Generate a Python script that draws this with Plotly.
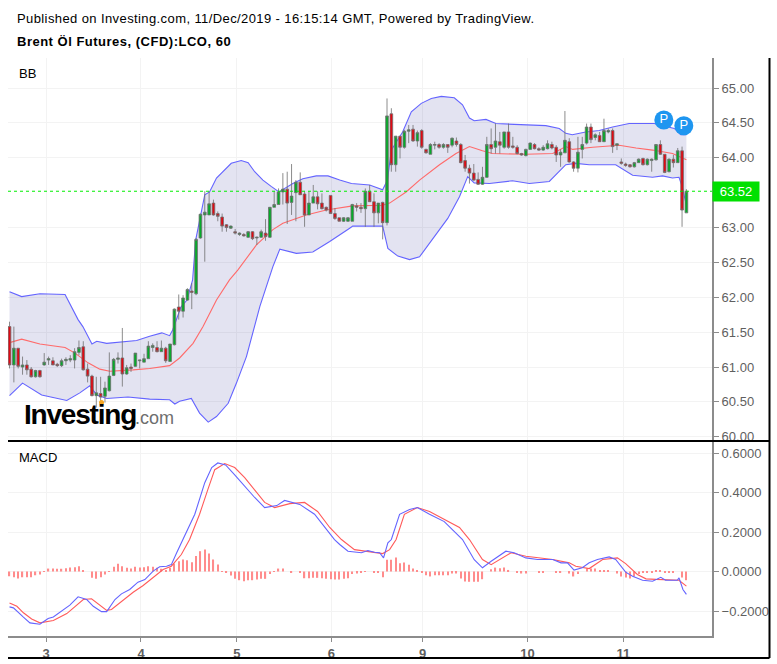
"""
Brent hourly candles with Bollinger bands and MACD
"""
import plotly.graph_objects as go

###############################################################################
# Values
# ----------------------------

opens = [61.58, 61.03, 61.27, 61.0, 61.03, 60.97, 60.86, 60.95, 61.03, 61.1,
         61.09, 61.04, 61.02, 61.09, 61.1, 61.10, 61.21, 61.29, 60.97, 60.87,
         60.59, 60.62, 60.58, 60.66, 60.88, 61.11, 61.13, 60.90, 61.0, 61.01,
         61.09, 61.07, 61.12, 61.28, 61.28, 61.22, 61.27, 61.08, 61.32, 61.86,
         61.80, 61.96, 62.09, 62.05, 62.85, 63.18, 63.18, 63.35, 63.2, 63.15,
         63.04, 62.99, 62.94, 62.9, 62.9, 62.86, 62.94, 62.85, 62.86, 62.92,
         62.86, 63.29, 63.33, 63.51, 63.55, 63.36, 63.5, 63.65, 63.48, 63.18,
         63.35, 63.44, 63.35, 63.29, 63.46, 63.2, 63.14, 63.09, 63.09, 63.09,
         63.31, 63.29, 63.27, 63.52, 63.37, 63.21, 63.36, 63.07, 64.63, 63.9,
         64.31, 64.15, 64.38, 64.41, 64.24, 64.39, 64.12, 64.05, 64.18, 64.19,
         64.15, 64.19, 64.18, 64.24, 64.19, 63.96, 63.85, 63.78, 63.69, 63.62,
         63.72, 64.19, 64.15, 64.23, 64.15, 64.37, 64.17, 64.15, 64.06, 64.03,
         64.12, 64.19, 64.13, 64.11, 64.13, 64.19, 64.15, 64.04, 64.07, 64.23,
         63.94, 63.85, 64.12, 64.21, 64.44, 64.29, 64.32, 64.23, 64.37, 64.39,
         64.18, 63.94, 63.91, 63.9, 63.87, 63.93, 63.99, 63.9, 63.96, 63.97,
         64.19, 64.05, 63.8, 63.98, 63.93, 64.1, 63.21]
highs = [61.65, 61.58, 61.27, 61.15, 61.10, 61.0, 60.96, 60.96, 61.2, 61.15,
         61.14, 61.06, 61.12, 61.14, 61.17, 61.27, 61.38, 61.37, 61.05, 60.89,
         60.86, 60.86, 60.79, 61.21, 61.13, 61.21, 61.56, 61.03, 61.05, 61.2,
         61.1, 61.19, 61.37, 61.34, 61.37, 61.38, 61.29, 61.33, 61.84, 62.04,
         62.03, 62.13, 62.2, 62.85, 63.2, 63.52, 63.52, 63.40, 63.23, 63.2,
         63.05, 63.03, 62.98, 62.93, 62.92, 62.95, 62.95, 62.87, 62.97, 63.12,
         63.29, 63.52, 63.56, 63.78, 63.8, 63.91, 63.68, 63.79, 63.52, 63.52,
         63.61, 63.52, 63.49, 63.3, 63.46, 63.28, 63.14, 63.15, 63.15, 63.34,
         63.35, 63.35, 63.56, 63.61, 63.49, 63.35, 63.37, 64.85, 64.71, 64.31,
         64.31, 64.4, 64.47, 64.47, 64.39, 64.41, 64.13, 64.21, 64.23, 64.21,
         64.21, 64.19, 64.29, 64.29, 64.21, 64.04, 63.9, 63.91, 63.79, 63.87,
         64.3, 64.42, 64.49, 64.37, 64.37, 64.49, 64.3, 64.18, 64.07, 64.13,
         64.22, 64.21, 64.15, 64.18, 64.25, 64.23, 64.18, 64.12, 64.67, 64.28,
         63.95, 64.3, 64.3, 64.49, 64.49, 64.35, 64.37, 64.56, 64.42, 64.42,
         64.2, 63.99, 63.93, 63.91, 63.94, 63.99, 64.0, 63.99, 63.99, 64.19,
         64.25, 64.05, 63.99, 64.04, 64.14, 64.16, 63.55]
lows = [60.98, 60.78, 60.98, 60.89, 60.89, 60.85, 60.85, 60.85, 61.02, 61.03,
        61.03, 61.0, 61.0, 61.03, 61.07, 60.98, 61.17, 60.95, 60.78, 60.58,
        60.42, 60.45, 60.49, 60.65, 60.87, 61.05, 60.72, 60.89, 60.93, 61.0,
        60.98, 61.07, 61.12, 61.22, 61.21, 61.22, 61.06, 61.08, 61.31, 61.68,
        61.71, 61.95, 61.83, 62.03, 62.84, 62.51, 63.18, 63.17, 63.09, 62.94,
        62.94, 62.98, 62.9, 62.88, 62.87, 62.85, 62.82, 62.75, 62.85, 62.81,
        62.85, 63.29, 63.33, 63.33, 63.05, 63.18, 63.09, 63.47, 63.01, 63.18,
        63.35, 63.26, 63.26, 63.23, 63.2, 63.11, 63.09, 63.08, 63.08, 63.09,
        63.23, 63.21, 63.01, 63.37, 63.01, 63.06, 62.83, 63.03, 63.8, 63.8,
        63.99, 64.13, 64.21, 64.23, 64.16, 64.13, 64.06, 64.05, 64.12, 64.13,
        64.13, 64.07, 64.15, 64.16, 63.92, 63.8, 63.63, 63.67, 63.61, 63.61,
        63.71, 64.06, 64.06, 64.06, 64.13, 64.13, 64.13, 64.05, 64.03, 64.02,
        64.12, 64.12, 64.1, 64.1, 64.12, 64.12, 63.94, 63.87, 64.07, 63.93,
        63.8, 63.79, 63.99, 64.19, 64.21, 64.25, 64.23, 64.23, 64.35, 64.07,
        64.11, 63.9, 63.87, 63.86, 63.86, 63.93, 63.89, 63.89, 63.8, 63.96,
        64.04, 63.78, 63.79, 63.86, 63.93, 63.01, 63.21]
closes = [61.03, 61.27, 61.01, 61.03, 60.96, 60.86, 60.95, 60.86, 61.07, 61.12,
          61.03, 61.02, 61.09, 61.11, 61.12, 61.22, 61.28, 60.96, 60.87, 60.59,
          60.63, 60.57, 60.70, 60.87, 61.11, 61.13, 60.90, 60.99, 60.98, 61.2,
          61.1, 61.12, 61.3, 61.31, 61.22, 61.27, 61.09, 61.33, 61.83, 61.80,
          61.99, 62.11, 62.07, 62.83, 63.19, 63.22, 63.34, 63.18, 63.16, 63.02,
          63.0, 63.02, 62.92, 62.92, 62.88, 62.94, 62.84, 62.86, 62.94, 62.87,
          63.29, 63.33, 63.51, 63.55, 63.35, 63.45, 63.65, 63.47, 63.18, 63.35,
          63.44, 63.34, 63.27, 63.25, 63.2, 63.13, 63.09, 63.14, 63.14, 63.33,
          63.29, 63.27, 63.52, 63.37, 63.21, 63.35, 63.07, 64.6, 63.9, 64.31,
          64.15, 64.38, 64.4, 64.24, 64.36, 64.15, 64.07, 64.19, 64.19, 64.15,
          64.19, 64.15, 64.28, 64.19, 63.93, 63.85, 63.78, 63.68, 63.62, 63.72,
          64.19, 64.13, 64.24, 64.18, 64.37, 64.15, 64.15, 64.06, 64.04, 64.12,
          64.21, 64.13, 64.11, 64.15, 64.2, 64.14, 64.04, 64.08, 64.25, 63.94,
          63.85, 64.08, 64.19, 64.44, 64.26, 64.33, 64.23, 64.39, 64.39, 64.16,
          64.2, 63.92, 63.89, 63.87, 63.93, 63.98, 63.9, 63.98, 63.98, 64.19,
          64.05, 63.79, 63.98, 63.93, 64.1, 63.25, 63.52]
last_price = 63.52

# Bollinger bands, read at the bends of each line (bar number, price)
upper_idx = [0, 2.8, 7, 12.8, 15.8, 16.9, 19, 20.1, 22.4, 25.9, 29.3, 32.3,
             35.1, 36.9, 37.6, 39.5, 40.9, 42.2, 42.9, 45, 46.1, 47.7, 49.1,
             51.1, 53.4, 55, 56.5, 58.4, 60.3, 62.1, 65.3, 67.6, 70.7, 73.4,
             76.1, 78.8, 83, 86, 87.1, 88, 90.6, 92.6, 94.9, 97.2, 99.5, 102.5,
             104.4, 106, 107.1, 109.8, 112.1, 116, 119.8, 123.6, 126.7, 128.2,
             129.7, 131.3, 132.8, 135.9, 139, 142.8, 145.8, 148.6, 153.2,
             154.7, 156]
upper_val = [62.08, 62.01, 62.05, 62.04, 61.68, 61.58, 61.33, 61.37, 61.34,
             61.36, 61.38, 61.44, 61.49, 61.45, 61.53, 61.86, 61.96, 62.25,
             62.82, 63.47, 63.51, 63.71, 63.80, 63.92, 63.96, 63.93, 63.80,
             63.68, 63.59, 63.51, 63.63, 63.70, 63.74, 63.74, 63.68, 63.63,
             63.61, 63.54, 63.68, 64.11, 64.37, 64.66, 64.78, 64.85, 64.88,
             64.86, 64.76, 64.57, 64.53, 64.55, 64.49, 64.48, 64.47, 64.46,
             64.42, 64.35, 64.33, 64.35, 64.37, 64.39, 64.44, 64.49, 64.49,
             64.49, 64.42, 64.33, 64.33]
mid_idx = [0, 2.8, 7, 12.8, 15.1, 18.1, 20.8, 23.1, 28.5, 32.3, 36.9, 39.2,
           42.3, 44.6, 47.7, 50.7, 52.6, 56.9, 60.7, 63, 68.4, 73, 79.1, 86,
           87.6, 91.4, 94.5, 99.1, 102.9, 106, 109, 111.3, 119, 125.2, 128.2,
           129.8, 134.4, 140.5, 144.4, 148.2, 152.8, 156]
mid_val = [61.35, 61.40, 61.33, 61.28, 61.20, 61.06, 60.97, 60.94, 60.96,
           60.98, 61.02, 61.13, 61.34, 61.58, 61.96, 62.25, 62.39, 62.75,
           62.97, 63.06, 63.18, 63.25, 63.31, 63.32, 63.35, 63.51, 63.68,
           63.90, 64.06, 64.16, 64.10, 64.06, 64.05, 64.06, 64.16, 64.12,
           64.15, 64.18, 64.14, 64.11, 64.06, 63.97]
lower_idx = [0, 3, 7.4, 13.2, 16.2, 18.5, 20.1, 22.4, 27.3, 32.3, 36.9, 38.1,
             39.2, 41.9, 43.8, 45.8, 47.7, 50.4, 52.3, 54.6, 57.7, 60.7, 62.3,
             66.1, 69.9, 73.8, 78.4, 79.1, 86, 87.2, 89.5, 92.2, 94.5, 99.1,
             101, 103.7, 105.6, 107.1, 110.6, 115.9, 119.8, 124.4, 125.9,
             128.2, 130.5, 133.6, 139.7, 143.6, 148.2, 150.5, 152.8, 154.3,
             155, 156]
lower_val = [60.59, 60.77, 60.60, 60.52, 60.63, 60.73, 60.60, 60.55, 60.57,
             60.54, 60.53, 60.47, 60.51, 60.55, 60.34, 60.21, 60.29, 60.48,
             60.77, 61.15, 61.87, 62.44, 62.69, 62.63, 62.65, 62.80, 62.99,
             63.02, 63.02, 62.70, 62.59, 62.54, 62.58, 62.97, 63.13, 63.44,
             63.73, 63.64, 63.63, 63.67, 63.63, 63.66, 63.75, 63.90, 63.92,
             63.90, 63.90, 63.75, 63.72, 63.74, 63.71, 63.72, 63.59, 63.32]

# MACD pane
macd_idx = [0, 0.9, 3.2, 4.7, 7, 8.9, 10.1, 12.4, 13.9, 15.8, 17.8, 19.3, 21.2,
            22.4, 24.3, 25.8, 27.7, 29.6, 31.2, 33.1, 34.6, 36.2, 37.3, 38.5,
            40, 42.7, 45, 46.6, 48, 49.8, 51.9, 54.2, 56.5, 58.8, 61.6, 63.4,
            66.9, 70.3, 74.9, 76.1, 78, 81.1, 82.6, 84.1, 85.3, 86.2, 87.2, 88,
            89.9, 92.2, 94, 96.8, 100.2, 104.4, 107.1, 109, 111, 114.4, 116.3,
            119, 121.7, 125.2, 127.1, 128.6, 130.1, 132, 133.6, 135.5, 138.2,
            139.7, 142, 143.6, 145.9, 148.2, 150.1, 151.2, 153.9, 154.3,
            155.2, 156]
macd_val = [-0.179, -0.184, -0.231, -0.26, -0.267, -0.238, -0.23, -0.196,
            -0.17, -0.128, -0.142, -0.176, -0.203, -0.203, -0.142, -0.113,
            -0.091, -0.054, -0.041, 0.002, 0.024, 0.027, 0.035, 0.094, 0.162,
            0.29, 0.45, 0.527, 0.55, 0.54, 0.49, 0.43, 0.375, 0.324, 0.334,
            0.36, 0.34, 0.29, 0.162, 0.137, 0.103, 0.095, 0.106, 0.098, 0.095,
            0.069, 0.145, 0.162, 0.29, 0.314, 0.324, 0.29, 0.253, 0.162, 0.06,
            0.019, 0.052, 0.103, 0.095, 0.069, 0.061, 0.061, 0.044, 0.044,
            0.007, 0.019, 0.044, 0.061, 0.074, 0.061, -0.003, -0.024, -0.044,
            -0.049, -0.029, -0.044, -0.044, -0.032, -0.091, -0.116]
signal_idx = [0, 1.7, 3.2, 5.1, 7, 10.1, 13.2, 15.8, 17, 18.9, 20.8, 22.4, 23.5,
              26.2, 28.5, 30.8, 33.1, 35.4, 37.3, 39.6, 41.5, 43.8, 45.7, 47.3,
              49.6, 51.9, 54.2, 56.5, 58.8, 61.1, 64.6, 68, 71, 73.8, 76.5,
              79.5, 82.2, 84.5, 86, 87.6, 89.1, 91, 94, 96.8, 100.2, 103.7,
              106, 109, 111, 115.6, 119, 122.1, 125.2, 129, 130.5, 133.6,
              136.7, 140.1, 142, 144.7, 146.7, 149, 152, 154.3, 156]
signal_val = [-0.159, -0.176, -0.209, -0.24, -0.26, -0.248, -0.213, -0.162,
              -0.142, -0.138, -0.172, -0.197, -0.192, -0.145, -0.105, -0.071,
              -0.032, 0.01, 0.027, 0.086, 0.162, 0.29, 0.415, 0.516, 0.547,
              0.527, 0.476, 0.415, 0.35, 0.324, 0.344, 0.35, 0.304, 0.223,
              0.162, 0.111, 0.103, 0.098, 0.091, 0.111, 0.162, 0.29, 0.324,
              0.304, 0.263, 0.223, 0.162, 0.061, 0.035, 0.095, 0.077, 0.069,
              0.061, 0.044, 0.027, 0.015, 0.061, 0.069, 0.04, -0.015, -0.037,
              -0.04, -0.044, -0.044, -0.074]
hist_val = [-0.024, -0.029, -0.035, -0.029, -0.029, -0.029, -0.019, -0.015,
            0.002, 0.015, 0.015, 0.014, 0.014, 0.017, 0.02, 0.022, 0.027, 0.007,
            0, -0.032, -0.037, -0.029, -0.015, 0.002, 0.024, 0.04, 0.027, 0.019,
            0.015, 0.024, 0.02, 0.022, 0.027, 0.024, 0.019, 0.014, 0.007, 0.019,
            0.04, 0.052, 0.061, 0.057, 0.047, 0.078, 0.103, 0.111, 0.091, 0.061,
            0.035, 0.002, -0.007, -0.02, -0.037, -0.044, -0.049, -0.044, -0.044,
            -0.04, -0.037, -0.037, -0.012, 0.002, 0.015, 0.015, 0, -0.007, 0,
            -0.007, -0.034, -0.034, -0.032, -0.032, -0.034, -0.037, -0.039,
            -0.04, -0.04, -0.037, -0.034, -0.012, -0.01, -0.007, 0.002, 0,
            -0.007, -0.007, -0.029,
            0.059, 0.059, 0.071, 0.042, 0.046, 0.034, 0.015, 0.008, -0.005,
            -0.019, -0.025, -0.019, -0.019, -0.019, -0.019, -0.01, -0.01, -0.035,
            -0.051, -0.052, -0.052, -0.052, -0.039, 0, 0.012, 0.02, 0.017, 0.02,
            0.008, 0, -0.005, -0.01, -0.01, 0, 0, -0.003, -0.003, 0, 0, -0.005,
            -0.005, 0, -0.01, -0.025, -0.013, 0, 0.015, 0.015, 0.015, 0.003,
            0.008, 0.008, 0, -0.01, -0.025, -0.03, -0.035, -0.025, -0.013, -0.005,
            -0.005, -0.005, 0.008, 0.008, -0.003, -0.003, -0.003, 0, -0.03, -0.044]

# axis labels, 63.50 is covered by the last price label in the picture
day_pos = [8.45, 30.3, 52.4, 74.2, 95.2, 119.4, 141.5]
day_labels = ['<b>3</b>', '<b>4</b>', '<b>5</b>', '<b>6</b>', '<b>9</b>',
              '<b>10</b>', '<b>11</b>']
price_ticks = [60, 60.5, 61, 61.5, 62, 62.5, 63, 64, 64.5, 65]
macd_ticks = [-0.2, 0, 0.2, 0.4, 0.6]

# pivot flags and the small orange marker
flag_idx = [150.8, 155.4]
flag_val = [64.54, 64.46]
div_idx = [21.2]
div_val = [60.49]

bars = list(range(len(opens)))

###############################################################################
# Traces
# ------

BLUE, RED = '#6464ff', '#ff6a6a'
kw_line = dict(mode='lines', hoverinfo='skip', showlegend=False)

fig = go.Figure()

# the band goes on the base axes, the candles on an overlay above it
fig.add_trace(go.Scatter(
    x=upper_idx + lower_idx[::-1], y=upper_val + lower_val[::-1], fill='toself',
    fillcolor='rgba(70, 70, 160, 0.15)', line=dict(width=0), yaxis='y',
    **kw_line))
fig.add_trace(go.Scatter(x=upper_idx, y=upper_val, yaxis='y',
                         line=dict(color=BLUE, width=1.1), **kw_line))
fig.add_trace(go.Scatter(x=lower_idx, y=lower_val, yaxis='y',
                         line=dict(color=BLUE, width=1.1), **kw_line))
fig.add_trace(go.Scatter(x=mid_idx, y=mid_val, yaxis='y',
                         line=dict(color=RED, width=1.1), **kw_line))

fig.add_trace(go.Candlestick(
    x=bars, open=opens, high=highs, low=lows, close=closes, yaxis='y3',
    whiskerwidth=0, showlegend=False,
    increasing=dict(fillcolor='#06ab2a', line=dict(color='#6f6f6f', width=0.8)),
    decreasing=dict(fillcolor='#e00a14', line=dict(color='#6f6f6f', width=0.8))))

fig.add_trace(go.Scatter(
    x=div_idx, y=div_val, yaxis='y3', mode='markers', showlegend=False,
    marker=dict(color='#f5a623', size=5)))
fig.add_trace(go.Scatter(
    x=flag_idx, y=flag_val, yaxis='y3', mode='markers+text', text=['P', 'P'],
    textposition='middle center', showlegend=False,
    textfont=dict(family='Liberation Sans', size=13, color='white'),
    marker=dict(color='#1e96f0', size=19)))

fig.add_trace(go.Bar(x=bars, y=hist_val, yaxis='y2', width=0.28,
                     marker=dict(color='#ff8c8c', line=dict(width=0)),
                     showlegend=False))
fig.add_trace(go.Scatter(x=signal_idx, y=signal_val, yaxis='y2',
                         line=dict(color='#ff5a5a', width=1.1), **kw_line))
fig.add_trace(go.Scatter(x=macd_idx, y=macd_val, yaxis='y2',
                         line=dict(color=BLUE, width=1.1), **kw_line))

###############################################################################
# Layout
# ------

GRID, AXIS, LABEL = '#f3f3f3', '#8c8c8c', '#5f5f5f'
kw_tick = dict(family='Liberation Sans', size=13, color=LABEL)
kw_y = dict(side='right', showgrid=True, gridcolor=GRID, gridwidth=1,
            zeroline=False, ticks='outside', ticklen=5, tickcolor=AXIS,
            tickfont=kw_tick, showline=True, linecolor=AXIS, linewidth=2,
            anchor='x', fixedrange=True)
price_range = [59.94, 65.43]

fig.update_layout(
    width=777, height=664,
    margin=dict(l=8, r=65, t=58, b=28, autoexpand=False),
    paper_bgcolor='white', plot_bgcolor='white', showlegend=False, boxgap=0.12,
    xaxis=dict(range=[-0.35, 161.9], tickvals=day_pos, ticktext=day_labels,
               anchor='y2', showgrid=True, gridcolor=GRID, zeroline=False,
               showline=True, linecolor=AXIS, linewidth=2, ticks='outside',
               ticklen=4, tickcolor=AXIS, fixedrange=True,
               tickfont=dict(family='Liberation Sans', size=13, color=LABEL),
               rangeslider=dict(visible=False)),
    yaxis=dict(domain=[0.3374, 1], range=price_range, tickvals=price_ticks,
               tickformat='.2f', **kw_y),
    yaxis2=dict(domain=[0, 0.3356], range=[-0.3266, 0.656], tickvals=macd_ticks,
                tickformat='.4f', **kw_y),
    yaxis3=dict(overlaying='y', range=price_range, visible=False, anchor='x',
                fixedrange=True),
)


def px_x(xp):
    return (xp - 8) / 704


def px_y(yp):
    return (636 - yp) / 578


def add_text(text, xp, yp, size, color='black', bold=False, spacing=0):
    text = '<span style="letter-spacing:%gpx">%s</span>' % (spacing, text)
    fig.add_annotation(
        text='<b>%s</b>' % text if bold else text, x=px_x(xp), y=px_y(yp),
        xref='paper', yref='paper', xanchor='left', yanchor='middle',
        showarrow=False, font=dict(family='Liberation Sans', size=size,
                                   color=color))


add_text('Published on Investing.com, 11/Dec/2019 - 16:15:14 GMT, '
         'Powered by TradingView.', 15, 18, 13, spacing=0.4)
add_text('Brent Öl Futures, (CFD):LCO, 60', 15, 41, 13, bold=True, spacing=0.5)
add_text('BB', 17, 74, 13)
add_text('MACD', 17, 458, 13)
add_text('Investing', 22, 414, 28, bold=True, spacing=-1.2)
add_text('.com', 133, 418, 18, color='#6e6e6e')

# current price line and its label
fig.add_shape(type='line', xref='paper', x0=0, x1=1, yref='y', y0=last_price,
              y1=last_price, line=dict(color='#00ee00', width=1, dash='dot'))
fig.add_annotation(
    text='%.2f' % last_price, xref='paper', x=1, yref='y', y=last_price,
    xanchor='left', yanchor='middle', showarrow=False, width=46, height=19,
    bgcolor='#00e000', borderpad=0, align='center',
    font=dict(family='Liberation Sans', size=13, color='white'))

# black frame lines
for x0, x1, y0, y1 in [(8, 769.5, 441, 441), (8, 769.5, 658, 658),
                       (769.5, 769.5, 58, 658)]:
    fig.add_shape(type='line', xref='paper', yref='paper', x0=px_x(x0),
                  x1=px_x(x1), y0=px_y(y0), y1=px_y(y1),
                  line=dict(color='black', width=2))

fig.write_html("out.html", config=dict(displayModeBar=False),
               post_script="document.body.style.margin='0';")
